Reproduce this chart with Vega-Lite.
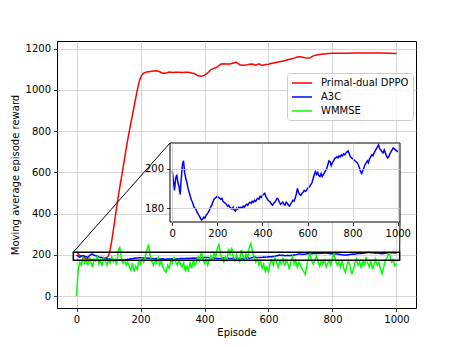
{
"$schema":"https://vega.github.io/schema/vega-lite/v6.json",
"width":359,"height":267,
"autosize":"none",
"padding":{"left":57,"top":41,"right":47,"bottom":39},
"background":"white",
"config":{
 "font":"DejaVu Sans",
 "view":{"stroke":"black","strokeWidth":1},
 "axis":{"labelFont":"DejaVu Sans","labelFontSize":10,"labelColor":"black","tickColor":"black","tickSize":3.5,"tickWidth":0.8,"labelPadding":3,"domain":false,"grid":true,"gridColor":"#cbcbcb","gridWidth":0.8,"titleFont":"DejaVu Sans","titleFontSize":10,"titleFontWeight":"normal","titleColor":"black","format":"d"}
},
"datasets":{
"dppo":[{"e":0,"r":216},{"e":10,"r":197},{"e":20,"r":188},{"e":30,"r":182},{"e":40,"r":178},{"e":50,"r":175},{"e":60,"r":173},{"e":70,"r":172},{"e":80,"r":174},{"e":90,"r":180},{"e":100,"r":195},{"e":105,"r":225},{"e":110,"r":268},{"e":115,"r":318},{"e":120,"r":372},{"e":125,"r":425},{"e":130,"r":478},{"e":135,"r":525},{"e":140,"r":572},{"e":145,"r":618},{"e":150,"r":665},{"e":155,"r":712},{"e":160,"r":758},{"e":165,"r":800},{"e":170,"r":840},{"e":175,"r":880},{"e":180,"r":920},{"e":185,"r":960},{"e":190,"r":1000},{"e":195,"r":1035},{"e":200,"r":1060},{"e":205,"r":1074},{"e":210,"r":1081},{"e":215,"r":1085},{"e":220,"r":1087},{"e":230,"r":1089},{"e":240,"r":1091},{"e":250,"r":1093},{"e":260,"r":1088},{"e":270,"r":1080},{"e":280,"r":1082},{"e":290,"r":1087},{"e":300,"r":1084},{"e":310,"r":1085},{"e":320,"r":1086},{"e":330,"r":1084},{"e":340,"r":1085},{"e":350,"r":1085},{"e":360,"r":1082},{"e":370,"r":1078},{"e":380,"r":1068},{"e":390,"r":1066},{"e":400,"r":1070},{"e":410,"r":1083},{"e":420,"r":1098},{"e":430,"r":1104},{"e":440,"r":1111},{"e":450,"r":1124},{"e":460,"r":1127},{"e":470,"r":1125},{"e":480,"r":1126},{"e":490,"r":1130},{"e":500,"r":1134},{"e":510,"r":1122},{"e":520,"r":1119},{"e":530,"r":1120},{"e":540,"r":1124},{"e":550,"r":1125},{"e":560,"r":1120},{"e":570,"r":1126},{"e":580,"r":1118},{"e":590,"r":1123},{"e":600,"r":1124},{"e":610,"r":1129},{"e":620,"r":1132},{"e":630,"r":1135},{"e":640,"r":1138},{"e":650,"r":1141},{"e":660,"r":1146},{"e":670,"r":1150},{"e":680,"r":1154},{"e":690,"r":1159},{"e":700,"r":1160},{"e":710,"r":1157},{"e":720,"r":1154},{"e":730,"r":1156},{"e":740,"r":1165},{"e":750,"r":1169},{"e":760,"r":1172},{"e":770,"r":1174},{"e":780,"r":1175},{"e":790,"r":1176},{"e":800,"r":1177},{"e":825,"r":1178},{"e":850,"r":1178},{"e":875,"r":1179},{"e":900,"r":1179},{"e":925,"r":1179},{"e":950,"r":1179},{"e":975,"r":1178},{"e":1000,"r":1176}],
"a3c":[{"e":0,"r":199},{"e":5,"r":194},{"e":10,"r":189},{"e":15,"r":195},{"e":20,"r":197},{"e":25,"r":193},{"e":30,"r":191},{"e":35,"r":187},{"e":40,"r":195},{"e":45,"r":202},{"e":50,"r":204},{"e":55,"r":198},{"e":60,"r":195},{"e":65,"r":193},{"e":70,"r":190},{"e":75,"r":188},{"e":80,"r":186},{"e":85,"r":184},{"e":90,"r":183},{"e":95,"r":181},{"e":100,"r":180},{"e":105,"r":179.5},{"e":110,"r":178},{"e":115,"r":177},{"e":120,"r":176},{"e":125,"r":175},{"e":130,"r":174},{"e":135,"r":174.5},{"e":140,"r":175.5},{"e":145,"r":175},{"e":150,"r":176.5},{"e":155,"r":177},{"e":160,"r":178},{"e":165,"r":179},{"e":170,"r":180.5},{"e":175,"r":181.5},{"e":180,"r":183},{"e":185,"r":184.5},{"e":190,"r":185},{"e":195,"r":185.5},{"e":200,"r":186},{"e":205,"r":185.5},{"e":210,"r":185},{"e":215,"r":184.5},{"e":220,"r":185},{"e":225,"r":183.5},{"e":230,"r":183},{"e":235,"r":182.5},{"e":240,"r":182},{"e":245,"r":181},{"e":250,"r":181.5},{"e":255,"r":180.5},{"e":260,"r":180},{"e":265,"r":179.5},{"e":270,"r":180.5},{"e":275,"r":179},{"e":280,"r":178.5},{"e":285,"r":180},{"e":290,"r":179.5},{"e":295,"r":180.5},{"e":300,"r":180},{"e":305,"r":180.5},{"e":310,"r":180},{"e":315,"r":181},{"e":320,"r":180.5},{"e":325,"r":181.5},{"e":330,"r":182},{"e":335,"r":181.5},{"e":340,"r":182.5},{"e":345,"r":183},{"e":350,"r":182.5},{"e":355,"r":183.5},{"e":360,"r":183},{"e":365,"r":184},{"e":370,"r":183.5},{"e":375,"r":184.5},{"e":380,"r":185},{"e":385,"r":184.5},{"e":390,"r":186},{"e":395,"r":185.5},{"e":400,"r":186.5},{"e":405,"r":187},{"e":410,"r":187.5},{"e":415,"r":186},{"e":420,"r":185},{"e":425,"r":184},{"e":430,"r":183.5},{"e":435,"r":183},{"e":440,"r":182},{"e":445,"r":181.5},{"e":450,"r":182.5},{"e":455,"r":183},{"e":460,"r":184},{"e":465,"r":185},{"e":470,"r":184.5},{"e":475,"r":183},{"e":480,"r":182},{"e":485,"r":182.5},{"e":490,"r":183},{"e":495,"r":182},{"e":500,"r":181.5},{"e":505,"r":183},{"e":510,"r":182.5},{"e":515,"r":181.5},{"e":520,"r":181},{"e":525,"r":182},{"e":530,"r":183},{"e":535,"r":184},{"e":540,"r":183.5},{"e":545,"r":185},{"e":550,"r":187},{"e":555,"r":190},{"e":560,"r":188},{"e":565,"r":187},{"e":570,"r":186.5},{"e":575,"r":187.5},{"e":580,"r":188},{"e":585,"r":189},{"e":590,"r":188.5},{"e":595,"r":189},{"e":600,"r":190},{"e":605,"r":190.5},{"e":610,"r":191},{"e":615,"r":192},{"e":620,"r":193},{"e":625,"r":195},{"e":630,"r":197},{"e":635,"r":198.5},{"e":640,"r":197},{"e":645,"r":198},{"e":650,"r":196.5},{"e":655,"r":196},{"e":660,"r":197.5},{"e":665,"r":196},{"e":670,"r":197},{"e":675,"r":198},{"e":680,"r":199},{"e":685,"r":200},{"e":690,"r":202},{"e":695,"r":204},{"e":700,"r":203.5},{"e":705,"r":201.5},{"e":710,"r":203},{"e":715,"r":204},{"e":720,"r":205},{"e":725,"r":205.5},{"e":730,"r":206},{"e":735,"r":205.5},{"e":740,"r":206.5},{"e":745,"r":206},{"e":750,"r":207},{"e":755,"r":206.5},{"e":760,"r":207.5},{"e":765,"r":207},{"e":770,"r":208},{"e":775,"r":208.5},{"e":780,"r":209},{"e":785,"r":207.5},{"e":790,"r":206},{"e":795,"r":205.5},{"e":800,"r":205},{"e":805,"r":204.5},{"e":810,"r":204},{"e":815,"r":203.5},{"e":820,"r":203},{"e":825,"r":202},{"e":830,"r":200.5},{"e":835,"r":198.5},{"e":840,"r":197.5},{"e":845,"r":199},{"e":850,"r":200.5},{"e":855,"r":202},{"e":860,"r":203},{"e":865,"r":204},{"e":870,"r":203},{"e":875,"r":205},{"e":880,"r":206},{"e":885,"r":207},{"e":890,"r":206.5},{"e":895,"r":208},{"e":900,"r":209},{"e":905,"r":210},{"e":910,"r":211},{"e":915,"r":212},{"e":920,"r":210},{"e":925,"r":209.5},{"e":930,"r":208.5},{"e":935,"r":208},{"e":940,"r":209.5},{"e":945,"r":208},{"e":950,"r":206.5},{"e":955,"r":205.5},{"e":960,"r":206},{"e":965,"r":207.5},{"e":970,"r":208.5},{"e":975,"r":209.5},{"e":980,"r":210.5},{"e":985,"r":210},{"e":990,"r":209.5},{"e":995,"r":209},{"e":1000,"r":208.5}],
"wmmse":[{"e":0,"r":0},{"e":5,"r":125},{"e":10,"r":165},{"e":15,"r":150},{"e":20,"r":185},{"e":25,"r":160},{"e":30,"r":175},{"e":35,"r":150},{"e":40,"r":190},{"e":45,"r":165},{"e":50,"r":140},{"e":55,"r":180},{"e":60,"r":170},{"e":65,"r":195},{"e":70,"r":155},{"e":75,"r":175},{"e":80,"r":145},{"e":85,"r":185},{"e":90,"r":170},{"e":95,"r":150},{"e":100,"r":175},{"e":105,"r":160},{"e":110,"r":190},{"e":115,"r":165},{"e":120,"r":180},{"e":125,"r":150},{"e":130,"r":215},{"e":135,"r":240},{"e":140,"r":185},{"e":145,"r":160},{"e":150,"r":175},{"e":155,"r":150},{"e":160,"r":165},{"e":165,"r":140},{"e":170,"r":125},{"e":175,"r":160},{"e":180,"r":118},{"e":185,"r":145},{"e":190,"r":130},{"e":195,"r":170},{"e":200,"r":155},{"e":205,"r":180},{"e":210,"r":165},{"e":215,"r":190},{"e":220,"r":225},{"e":225,"r":250},{"e":230,"r":195},{"e":235,"r":170},{"e":240,"r":150},{"e":245,"r":175},{"e":250,"r":160},{"e":255,"r":185},{"e":260,"r":150},{"e":265,"r":170},{"e":270,"r":140},{"e":275,"r":125},{"e":280,"r":115},{"e":285,"r":150},{"e":290,"r":135},{"e":295,"r":175},{"e":300,"r":160},{"e":305,"r":185},{"e":310,"r":165},{"e":315,"r":150},{"e":320,"r":175},{"e":325,"r":155},{"e":330,"r":140},{"e":335,"r":160},{"e":340,"r":120},{"e":345,"r":145},{"e":350,"r":125},{"e":355,"r":160},{"e":360,"r":135},{"e":365,"r":175},{"e":370,"r":150},{"e":375,"r":165},{"e":380,"r":190},{"e":385,"r":170},{"e":390,"r":215},{"e":395,"r":185},{"e":400,"r":160},{"e":405,"r":180},{"e":410,"r":150},{"e":415,"r":175},{"e":420,"r":195},{"e":425,"r":170},{"e":430,"r":210},{"e":435,"r":185},{"e":440,"r":230},{"e":445,"r":250},{"e":450,"r":205},{"e":455,"r":180},{"e":460,"r":165},{"e":465,"r":190},{"e":470,"r":175},{"e":475,"r":230},{"e":480,"r":200},{"e":485,"r":235},{"e":490,"r":185},{"e":495,"r":170},{"e":500,"r":200},{"e":505,"r":180},{"e":510,"r":165},{"e":515,"r":225},{"e":520,"r":195},{"e":525,"r":175},{"e":530,"r":205},{"e":535,"r":185},{"e":540,"r":235},{"e":545,"r":255},{"e":550,"r":215},{"e":555,"r":190},{"e":560,"r":165},{"e":565,"r":180},{"e":570,"r":150},{"e":575,"r":170},{"e":580,"r":135},{"e":585,"r":155},{"e":590,"r":120},{"e":595,"r":140},{"e":600,"r":113},{"e":605,"r":160},{"e":610,"r":175},{"e":615,"r":150},{"e":620,"r":185},{"e":625,"r":165},{"e":630,"r":140},{"e":635,"r":170},{"e":640,"r":155},{"e":645,"r":185},{"e":650,"r":145},{"e":655,"r":175},{"e":660,"r":160},{"e":665,"r":130},{"e":670,"r":165},{"e":675,"r":190},{"e":680,"r":155},{"e":685,"r":175},{"e":690,"r":140},{"e":695,"r":165},{"e":700,"r":150},{"e":705,"r":130},{"e":710,"r":120},{"e":715,"r":105},{"e":720,"r":150},{"e":725,"r":185},{"e":730,"r":205},{"e":735,"r":170},{"e":740,"r":155},{"e":745,"r":175},{"e":750,"r":195},{"e":755,"r":165},{"e":760,"r":145},{"e":765,"r":170},{"e":770,"r":155},{"e":775,"r":180},{"e":780,"r":140},{"e":785,"r":160},{"e":790,"r":175},{"e":795,"r":150},{"e":800,"r":185},{"e":805,"r":205},{"e":810,"r":170},{"e":815,"r":150},{"e":820,"r":165},{"e":825,"r":140},{"e":830,"r":175},{"e":835,"r":135},{"e":840,"r":115},{"e":845,"r":150},{"e":850,"r":170},{"e":855,"r":145},{"e":860,"r":105},{"e":865,"r":130},{"e":870,"r":160},{"e":875,"r":180},{"e":880,"r":150},{"e":885,"r":165},{"e":890,"r":135},{"e":895,"r":175},{"e":900,"r":145},{"e":905,"r":190},{"e":910,"r":160},{"e":915,"r":140},{"e":920,"r":170},{"e":925,"r":130},{"e":930,"r":155},{"e":935,"r":180},{"e":940,"r":150},{"e":945,"r":165},{"e":950,"r":130},{"e":955,"r":108},{"e":960,"r":140},{"e":965,"r":170},{"e":970,"r":185},{"e":975,"r":205},{"e":980,"r":195},{"e":985,"r":165},{"e":990,"r":175},{"e":995,"r":145},{"e":1000,"r":155}],
"zoom":[{"x1":-10,"x2":1010,"y1":173,"y2":213}],
"conn":[{"ax":-10,"ay":213,"bx":292,"by":742},{"ax":1010,"ay":213,"bx":1011,"by":359}]
},
"layer":[
 {"layer":[
  {"data":{"name":"dppo"},"mark":{"type":"line","strokeWidth":1.5},
   "encoding":{
    "x":{"field":"e","type":"quantitative","scale":{"domain":[-61,1061],"nice":false,"zero":false},"axis":{"orient":"bottom","title":"Episode","values":[0,200,400,600,800,1000],"titlePadding":3}},
    "y":{"field":"r","type":"quantitative","scale":{"domain":[-58,1237],"nice":false,"zero":false},"axis":{"orient":"left","title":"Moving average episode reward","values":[0,200,400,600,800,1000,1200],"titlePadding":5}},
    "color":{"datum":"Primal-dual DPPO","type":"nominal","scale":{"domain":["Primal-dual DPPO","A3C","WMMSE"],"range":["#ff0000","#0000ff","#00ff00"]},
     "legend":{"orient":"none","legendX":230,"legendY":32,"title":null,"direction":"vertical","symbolType":"M-1,0H3","symbolSize":100,"symbolStrokeWidth":1.5,"labelFontSize":10,"labelFont":"DejaVu Sans","labelColor":"black","fillColor":"rgba(255,255,255,0.8)","strokeColor":"#cccccc","cornerRadius":3,"padding":4,"rowPadding":3,"labelOffset":18}}}},
  {"data":{"name":"a3c"},"mark":{"type":"line","strokeWidth":1.5},
   "encoding":{"x":{"field":"e","type":"quantitative"},"y":{"field":"r","type":"quantitative"},"color":{"datum":"A3C","type":"nominal"}}},
  {"data":{"name":"wmmse"},"mark":{"type":"line","strokeWidth":1.5},
   "encoding":{"x":{"field":"e","type":"quantitative"},"y":{"field":"r","type":"quantitative"},"color":{"datum":"WMMSE","type":"nominal"}}},
  {"data":{"name":"zoom"},"mark":{"type":"rect","filled":false,"color":"black","strokeWidth":1.5},
   "encoding":{"x":{"field":"x1","type":"quantitative"},"x2":{"field":"x2"},"y":{"field":"y1","type":"quantitative"},"y2":{"field":"y2"}}},
  {"data":{"name":"conn"},"mark":{"type":"rule","color":"black","strokeWidth":1},
   "encoding":{"x":{"field":"ax","type":"quantitative"},"y":{"field":"ay","type":"quantitative"},"x2":{"field":"bx"},"y2":{"field":"by"}}}
 ]},
 {"layer":[
  {"data":{"name":"zoom"},"mark":{"type":"rect","fill":"white","strokeWidth":0},
   "encoding":{
    "x":{"field":"x1","type":"quantitative","scale":{"domain":[-10,1010],"range":[113,343],"nice":false,"zero":false},"axis":{"orient":"top","values":[0,200,400,600,800,1000],"title":null,"zindex":1,"grid":true,"labels":false,"ticks":false,"domain":false,"gridColor":"#cbcbcb","gridWidth":0.8}},
    "x2":{"field":"x2"},
    "y":{"field":"y1","type":"quantitative","scale":{"domain":[173,213],"range":[181,102],"nice":false,"zero":false},"axis":{"orient":"left","offset":-113,"values":[180,200],"title":null,"zindex":1,"grid":true,"gridColor":"#cbcbcb","gridWidth":0.8}},
    "y2":{"field":"y2"}}},
  {"data":{"name":"a3c"},"mark":{"type":"line","color":"#0000ff","strokeWidth":1.5},
   "encoding":{"x":{"field":"e","type":"quantitative","axis":{"orient":"bottom","offset":-86,"values":[0,200,400,600,800,1000],"title":null,"zindex":1,"grid":false}},"y":{"field":"r","type":"quantitative"}}},
  {"data":{"name":"zoom"},"mark":{"type":"rect","filled":false,"color":"black","strokeWidth":1},
   "encoding":{"x":{"field":"x1","type":"quantitative","axis":null},"x2":{"field":"x2"},"y":{"field":"y1","type":"quantitative"},"y2":{"field":"y2"}}}
 ],
 "resolve":{"axis":{"x":"independent"}}}
],
"resolve":{"scale":{"x":"independent","y":"independent"}}
}
